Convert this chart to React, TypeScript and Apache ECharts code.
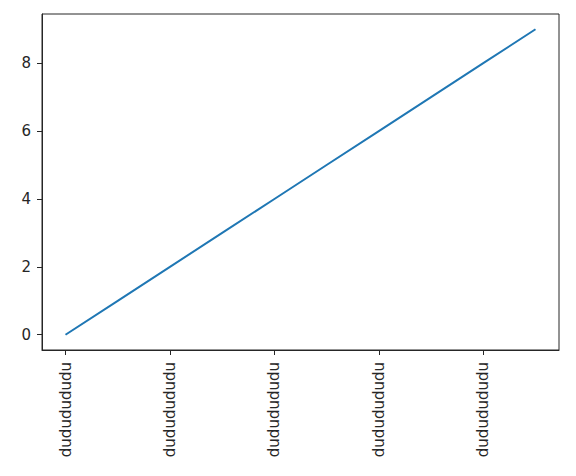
import React, { useEffect, useRef } from "react";
import * as echarts from "echarts";

const xValues = [0, 1, 2, 3, 4, 5, 6, 7, 8, 9];
const yValues = [0, 1, 2, 3, 4, 5, 6, 7, 8, 9];
const xTicks = [0, 2, 4, 6, 8];
const xTickLabel = "dududududu";
const yTicks = [0, 2, 4, 6, 8];

export default function App() {
  const ref = useRef<HTMLDivElement>(null);
  useEffect(() => {
    if (!ref.current) return;
    const chart = echarts.init(ref.current, null, { renderer: "svg" });
    const font = "'DejaVu Sans', sans-serif";
    const axisColor = "#262626";
    chart.setOption({
      animation: false,
      backgroundColor: "#ffffff",
      grid: {
        left: 34,
        right: 9,
        top: 6,
        bottom: 118,
        show: true,
        borderColor: axisColor,
        borderWidth: 1,
        backgroundColor: "transparent",
      },
      xAxis: {
        type: "value",
        min: -0.45,
        max: 9.45,
        splitLine: { show: false },
        axisLine: { show: true, onZero: false, lineStyle: { color: axisColor, width: 1 } },
        axisTick: {
          show: true,
          inside: false,
          length: 5,
          customValues: xTicks,
          lineStyle: { color: axisColor, width: 1 },
        },
        axisLabel: {
          customValues: xTicks,
          rotate: 90,
          margin: 12,
          color: "#262626",
          fontFamily: font,
          fontSize: 15,
          formatter: () => xTickLabel,
        },
      },
      yAxis: {
        type: "value",
        min: -0.45,
        max: 9.45,
        splitLine: { show: false },
        axisLine: { show: true, onZero: false, lineStyle: { color: axisColor, width: 1 } },
        axisTick: {
          show: true,
          inside: false,
          length: 5,
          customValues: yTicks,
          lineStyle: { color: axisColor, width: 1 },
        },
        axisLabel: {
          customValues: yTicks,
          margin: 11,
          color: "#262626",
          fontFamily: font,
          fontSize: 15,
          formatter: (v: number) => String(Math.round(v)),
        },
      },
      series: [
        {
          type: "line",
          data: xValues.map((x, i) => [x, yValues[i]]),
          showSymbol: false,
          symbol: "none",
          lineStyle: { color: "#1f77b4", width: 2 },
          itemStyle: { color: "#1f77b4" },
        },
      ],
    });
    return () => chart.dispose();
  }, []);
  return <div ref={ref} style={{ width: 560, height: 460 }} />;
}
